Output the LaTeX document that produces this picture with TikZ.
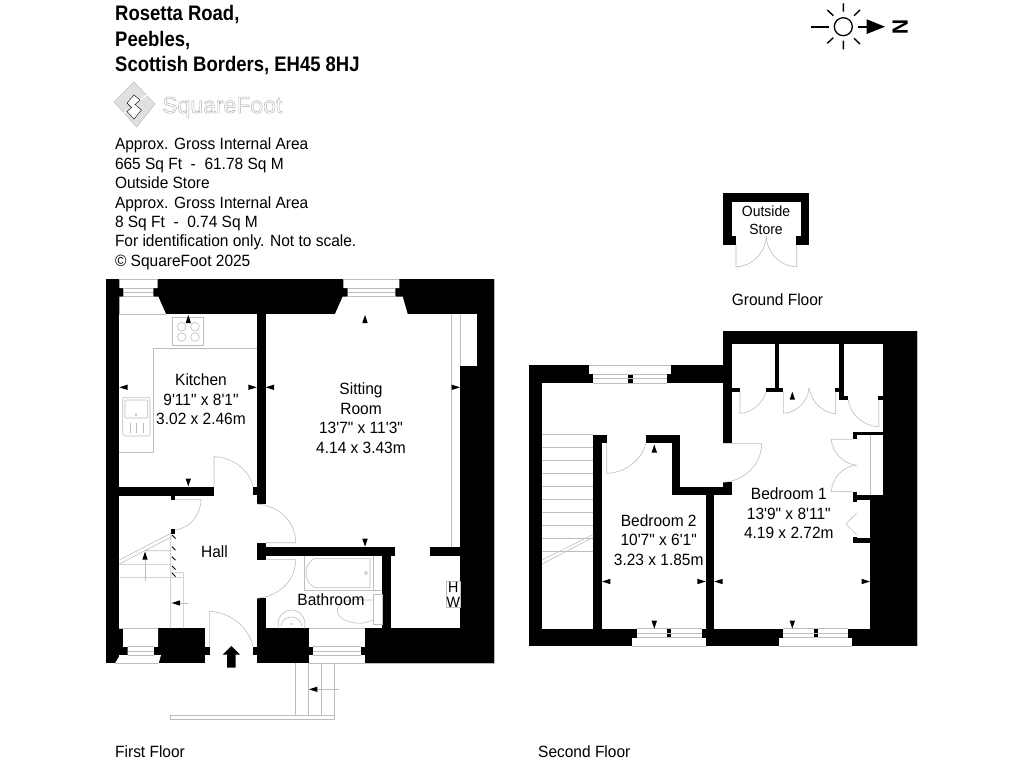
\documentclass[tikz,border=0pt]{standalone}
\usepackage{fontspec}
\setmainfont[FakeStretch=0.95,Ligatures=TeXOff]{Liberation Sans}
\newfontfamily\titlefont[FakeStretch=0.88]{Liberation Sans}
\newfontfamily\logofont{Liberation Sans}
\definecolor{thin}{gray}{0.74}
\tikzset{
  thinline/.style={draw=thin,line width=0.6pt},
  tag/.style={inner sep=0pt,outer sep=0pt,align=left,font=\fontsize{16.3}{19.4}\selectfont},
  room/.style={inner sep=0pt,outer sep=0pt,align=center,font=\fontsize{16.3}{19.5}\selectfont},
}
\newcommand{\wl}[4]{\fill[black] (#1,#2) rectangle (#3,#4);}
\newcommand{\wh}[4]{\fill[white] (#1,#2) rectangle (#3,#4);}
\newcommand{\tipL}[2]{\fill[black] (#1,#2) -- ++(8.3,-2.7) -- ++(0,5.4) -- cycle;}
\newcommand{\tipR}[2]{\fill[black] (#1,#2) -- ++(-8.3,-2.7) -- ++(0,5.4) -- cycle;}
\newcommand{\tipU}[2]{\fill[black] (#1,#2) -- ++(-2.7,8) -- ++(5.4,0) -- cycle;}
\newcommand{\tipD}[2]{\fill[black] (#1,#2) -- ++(-2.7,-8) -- ++(5.4,0) -- cycle;}
\begin{document}
\begin{tikzpicture}[x=1pt,y=-1pt]
\useasboundingbox (0,0) rectangle (1024,768);
\fill[white] (0,0) rectangle (1024,768);

% ---------- header text
\node[anchor=base west,inner sep=0pt,font=\titlefont\bfseries\fontsize{21}{25}\selectfont] (t1) at (115,20.7) {Rosetta Road,};
\node[anchor=base west,inner sep=0pt,font=\titlefont\bfseries\fontsize{21}{25}\selectfont] (t2) at (115,46) {Peebles,};
\node[anchor=base west,inner sep=0pt,font=\titlefont\bfseries\fontsize{21}{25}\selectfont] (t3) at (115,71.5) {Scottish Borders, EH45 8HJ};
\node[tag,anchor=north west] (info) at (115,138) {Approx. Gross Internal Area\\665 Sq Ft\ \ -\ \ 61.78 Sq M\\Outside Store\\Approx. Gross Internal Area\\8 Sq Ft\ \ -\ \ 0.74 Sq M\\For identification only. Not to scale.\\© SquareFoot 2025};

% ---------- logo
\draw[draw=thin,fill=black!12,line width=0.5pt,line join=round] (134,82) -- (155,104) -- (136.7,127) -- (114,102) -- cycle;
\fill[white] (127,103) -- (134,95) -- (140,100) -- (135,104.5) -- (141.5,110) -- (134,119) -- (127,111.5) -- (131.5,107.5) -- cycle;
\draw[white,line width=1.3pt] (140,100) -- (147,95) (127,111.5) -- (122,114);
\draw[thin,line width=0.4pt] (127,103) -- (134,95) -- (140,100) -- (135,104.5) -- (141.5,110) -- (134,119) -- (127,111.5) -- (131.5,107.5) -- cycle;
\node[anchor=base west,inner sep=0pt,font=\logofont\fontsize{23}{25}\selectfont] (logo) at (162,113) {\special{pdf:code q 1 Tr 0.45 w 0.68 0.68 0.68 RG}SquareFoot\special{pdf:code Q}};

% ---------- north symbol
\draw[black,line width=1.3pt] (843.3,26.7) circle (9);
\draw[black,line width=1.4pt] (843.3,3.3) -- (843.3,11.7) (843.3,40.7) -- (843.3,49.3)
  (827.3,10) -- (833.3,15.7) (860,10) -- (854,15.7) (827.3,43.3) -- (833.3,37.7) (860,44) -- (854,38.3);
\draw[black,line width=1.8pt] (811,26.7) -- (829.3,26.7) (857.7,26.7) -- (867,26.7);
\fill[black] (885,26.7) -- (866.7,19.3) -- (866.7,34) -- cycle;
\node[inner sep=0pt,rotate=-90,font=\bfseries\fontsize{22}{22}\selectfont] (north) at (900.3,27) {N};

% ========== FIRST FLOOR
% outer masses
\wl{106}{279.3}{119.3}{663.3}
\wl{119.3}{279.3}{494.3}{314}
\wl{476.7}{314}{494.3}{365.7}
\wl{460}{365.7}{494.3}{663.3}
\wl{365}{628.3}{494.3}{663.3}
\wl{265.7}{628.3}{309.3}{663.3}
\wl{257}{314}{265.7}{504}
\wl{252.7}{486.7}{257}{495}
\wl{119.3}{486.7}{214}{496}
\wl{170.7}{496}{175.3}{500}
\wl{257}{542.7}{265.7}{560}
\wl{265.7}{546.7}{395}{555.7}
\wl{429.7}{546.7}{460}{555.7}
\wl{382.3}{555.7}{391}{628.3}
\wl{257}{598.3}{265.7}{663.3}
\wl{252.7}{646.7}{257}{655}
\wl{158}{628.3}{205.3}{663.3}
\wl{205.3}{646.7}{209.7}{655}
\wl{153.7}{646.7}{158}{655}
\wl{119.3}{628.3}{123.3}{655}
\wl{123.3}{646.7}{127.7}{655}
\wl{170.7}{529.3}{175.3}{534}
% kitchen window opening
\fill[white] (119.3,279.3) -- (119.3,288) -- (123.3,288) -- (123.3,296.7) -- (119.3,296.7) -- (119.3,314) -- (166,314) -- (158.3,296.7) -- (153.3,296.7) -- (153.3,288) -- (157.7,288) -- (157.7,279.3) -- cycle;
\draw[thinline] (119.3,279.3) -- (157.7,279.3) (123.3,288) -- (153.3,288) (123.3,292.3) -- (153.3,292.3) (123.3,296.7) -- (153.3,296.7) (119.3,314) -- (166,314);
% sitting room window opening
\fill[white] (343.3,279.3) -- (343.3,288) -- (347.7,288) -- (347.7,296.7) -- (342.7,296.7) -- (335,314) -- (407.7,314) -- (402.7,296.7) -- (395.3,296.7) -- (395.3,288) -- (399.3,288) -- (399.3,279.3) -- cycle;
\draw[thinline] (343.3,279.3) -- (399.3,279.3) (347.7,288) -- (395.3,288) (347.7,292.3) -- (395.3,292.3) (347.7,296.7) -- (395.3,296.7);
% lower-left window
\fill[white] (123.3,628.3) -- (158,628.3) -- (158,646.7) -- (153.7,646.7) -- (153.7,655) -- (161,655) -- (158.7,663.3) -- (115,663.3) -- (120,655) -- (127.7,655) -- (127.7,646.7) -- (123.3,646.7) -- cycle;
\draw[thinline] (119.3,628.3) -- (158,628.3) (127.7,646.7) -- (153.7,646.7) (127.7,651) -- (153.7,651) (127.7,655) -- (153.7,655) (115,663.3) -- (158,663.3);
% bathroom window
\wh{309.3}{628.3}{365}{663.3}
\wl{309.3}{646.7}{313.3}{655}
\wl{360.7}{646.7}{365}{655}
\draw[thinline] (309.3,628.3) -- (365,628.3) (313.3,646.7) -- (360.7,646.7) (313.3,651) -- (360.7,651) (313.3,655) -- (360.7,655) (309.3,663.3) -- (365,663.3);
% right outline
\draw[thinline] (494.3,279.3) -- (494.3,663.3) -- (365,663.3);

% kitchen fittings
\draw[thinline] (153.7,348.3) -- (257,348.3) (153.7,348.3) -- (153.7,452.3) -- (119.3,452.3);
\draw[thinline] (172.7,317.3) rectangle (203.7,345);
\foreach \cx/\cy in {181.7/326.7,195/326.7,181.7/337,195/337} \draw[thinline] (\cx,\cy) circle (4.3);
\draw[thinline,rounded corners=2pt] (122.7,397.3) rectangle (150,436);
\draw[thinline,rounded corners=1pt] (125,400) rectangle (147.7,418);
\draw[thinline] (136,414.7) circle (1);
\draw[thinline] (130,423) -- (130,433) (136.5,423) -- (136.5,433) (143,423) -- (143,433);
% doors first floor
\draw[thinline] (214,486.7) -- (214,456.7) .. controls (232,457) and (250,470) .. (252.7,486.7);
\draw[thinline] (265.7,542.7) -- (295.7,542.7) .. controls (295.7,522) and (280,506) .. (257,504);
\draw[thinline] (265.7,559.3) -- (295.7,559.3) .. controls (295.7,580) and (280,596) .. (257,598.3);
\draw[thinline] (209.3,646.7) -- (209.3,611.3) .. controls (230,612) and (250,628) .. (252.7,646.7);
\draw[thinline] (175.3,499.3) -- (201,499.3) .. controls (201,515) and (190,528) .. (175.3,530);
% stairs
\draw[thinline] (170.7,534) -- (170.7,628.3) (183.3,572.7) -- (183.3,628.3) (170.7,572.7) -- (183.3,572.7)
  (119.3,577.3) -- (183.3,577.3) (119.3,564.3) -- (170.7,564.3) (145,550.7) -- (170.7,550.7)
  (119.3,560) -- (170.7,533.3) (119.3,564) -- (171.7,536.7);
\foreach \hy in {535,546.7,556.7,566,573} \draw[black,line width=0.9pt] (172,\hy) -- (175.5,\hy+3.5);
\draw[thinline] (145,560) -- (145,581) (180,603) -- (187.7,603);
\tipU{145}{551.7}
\tipL{171.7}{603}
% entry arrow
\fill[black] (231.3,646) -- (240,654.7) -- (235.7,654.7) -- (235.7,667.7) -- (227,667.7) -- (227,654.7) -- (222.7,654.7) -- cycle;
% sitting room lines
\draw[thinline] (451.7,314) -- (451.7,546.7) (460,314) -- (460,365.7);
% bathroom fittings
\draw[thinline] (304.3,555.7) -- (304.3,590.3) -- (382.3,590.3) (373.7,555.7) -- (373.7,590.3);
\draw[thinline] (370,558.3) -- (318,558.3) .. controls (302,558.3) and (302,587.7) .. (318,587.7) -- (370,587.7) -- cycle;
\draw[thinline] (366,573) circle (1.6);
\draw[thinline] (373.3,594.3) rectangle (382.3,624.3);
\draw[thinline] (373.3,600) -- (365,600) .. controls (345,598) and (337.3,604) .. (337.3,611) .. controls (337.3,620) and (355,625) .. (365,622.7) -- (373.3,620);
\draw[thinline] (278.5,628.3) .. controls (276,616) and (285,610) .. (291.5,610) .. controls (298,610) and (307,616) .. (304.5,628.3);
\draw[thinline] (281,626) .. controls (283,614) and (300,614) .. (302,626);
\draw[thinline] (291.5,624) circle (0.8);
% HW
\draw[thinline,fill=white] (446.7,581) rectangle (460,607.7);
\node[inner sep=0pt,font=\fontsize{15}{15}\selectfont,anchor=base] (hwH) at (453.3,592.3) {H};
\node[inner sep=0pt,font=\fontsize{15}{15}\selectfont,anchor=base] (hwW) at (453.3,607.3) {W};
% entry steps
\draw[thinline] (295.7,663.3) -- (295.7,715) (308.7,663.3) -- (308.7,715) (321.7,663.3) -- (321.7,715) (334.7,663.3) -- (334.7,719.3) -- (170.3,719.3) -- (170.3,715) -- (334.7,715);
\draw[thinline] (317,689.3) -- (339,689.3);
\tipL{309}{689.3}
% first floor dim arrows
\tipL{119.3}{387.3}
\tipR{256.7}{387.3}
\tipL{265.7}{387.3}
\tipR{460}{387.3}
\tipU{188.3}{315}
\tipD{188.3}{486.5}
\tipU{365}{315}
\tipD{365}{546.7}
% first floor labels
\node[room] (kitchen) at (201,399.5) {Kitchen\\9'11" x 8'1"\\3.02 x 2.46m};
\node[room] (sitting) at (361,418) {Sitting\\Room\\13'7" x 11'3"\\4.14 x 3.43m};
\node[room,anchor=base] (hall) at (214.5,557.3) {Hall};
\node[room,anchor=base] (bath) at (331,605) {Bathroom};

% ========== OUTSIDE STORE
\wl{723}{193}{809.3}{201.7}
\wl{723}{193}{731.7}{245}
\wl{800.7}{193}{809.3}{245}
\wl{731.7}{236}{736}{245}
\wl{796.3}{236}{800.7}{245}
\draw[thinline] (736,245) -- (736,266.7) .. controls (752,266.7) and (766,252) .. (766.3,236);
\draw[thinline] (796.7,245) -- (796.7,266.7) .. controls (780,266.7) and (766.6,252) .. (766.3,236);
\node[room,font=\fontsize{14.7}{17.5}\selectfont] (store) at (766,220) {Outside\\Store};
\node[inner sep=0pt,anchor=base west,font=\fontsize{16.3}{19.4}\selectfont] (gf) at (731.7,305) {Ground Floor};

% ========== SECOND FLOOR
\wl{528.7}{365.3}{542}{646}
\wl{528.7}{365.3}{731.7}{383.3}
\wl{528.7}{628.7}{917.3}{646}
\wl{593.3}{434.7}{602}{628.7}
\wl{593.3}{434.7}{606.7}{443.3}
\wl{645.7}{434.7}{680}{443.3}
\wl{671.7}{434.7}{680}{495}
\wl{671.7}{486.7}{731.7}{495}
\wl{723.3}{482.3}{731.7}{495}
\wl{705.7}{495}{714.3}{628.7}
\wl{723.3}{331}{731.7}{443.3}
\wl{723.3}{331}{917.3}{344}
\wl{882.7}{344}{917.3}{495}
\wl{870}{495}{917.3}{646}
\wl{774.7}{344}{779.3}{389}
\wl{839.3}{344}{844}{400}
\wl{731.7}{387.7}{740}{391.7}
\wl{766}{387.7}{783.3}{391.7}
\wl{835}{387.7}{839.3}{391.7}
\wl{839.3}{396}{848.3}{400}
\wl{878.3}{396}{882.7}{400}
\wl{852.7}{431.7}{882.7}{435}
\wl{852.7}{431.7}{857.3}{439}
\wl{857}{495}{870}{500}
\wl{852.7}{491.7}{857.3}{501.7}
\wl{857}{538.3}{870}{542.7}
\wl{852.7}{536.7}{857.3}{542.7}
% top window
\wh{589.3}{365.3}{671.3}{383.3}
\wl{589.3}{374}{593.3}{383.3}
\wl{666.7}{374}{671.3}{383.3}
\wl{628}{374}{632.7}{383.3}
\draw[thinline] (589.3,365.3) -- (671.3,365.3) (593.3,374) -- (666.7,374) (593.3,378.5) -- (666.7,378.5) (593.3,383.3) -- (666.7,383.3);
% bottom windows
\wh{636.7}{628.7}{701.7}{637.7}
\wh{632.3}{637.7}{705.7}{646}
\wl{666.7}{628.7}{671.3}{637.7}
\draw[thinline] (636.7,628.7) -- (701.7,628.7) (636.7,633.2) -- (701.7,633.2) (636.7,637.7) -- (701.7,637.7) (632.3,646) -- (705.7,646);
\wh{783.3}{628.7}{848}{637.7}
\wh{779.3}{637.7}{852.3}{646}
\wl{813.7}{628.7}{818.3}{637.7}
\draw[thinline] (783.3,628.7) -- (848,628.7) (783.3,633.2) -- (848,633.2) (783.3,637.7) -- (848,637.7) (779.3,646) -- (852.3,646);
\draw[thinline] (917.3,331) -- (917.3,646);
% stairs
\foreach \sy in {434.3,447.3,...,555} \draw[thinline] (542,\sy) -- (593.3,\sy);
\draw[thinline] (542,560) -- (593.3,534.3) (542,564) -- (593.3,537.3);
% doors second floor
\draw[thinline] (606.7,443.3) -- (606.7,473.3) .. controls (625,473) and (642,460) .. (645.7,443.3);
\draw[thinline] (723.3,443.3) -- (761.7,443.3) .. controls (761.7,464) and (745,481) .. (723.3,482.3);
\draw[thinline] (740,391.7) -- (740,413.3) .. controls (752,413) and (763,403) .. (766,391.7);
\draw[thinline] (783.3,391.7) -- (783.3,413.3) .. controls (796,413) and (808,402) .. (809,388);
\draw[thinline] (835.7,391.7) -- (835.7,413.7) .. controls (823,413) and (811,402) .. (809.3,388);
\draw[thinline] (878.7,400) -- (878.7,426.7) .. controls (863,426) and (850,414) .. (848.3,400);
\draw[thinline] (870,435) -- (870,495);
\draw[thinline] (852.7,439.3) -- (831.3,439.3) .. controls (832,452) and (843,464) .. (856.7,465.3);
\draw[thinline] (852.7,491.7) -- (831.3,491.7) .. controls (832,478) and (843,466) .. (856.7,465.3);
\draw[thinline] (856.7,513.3) -- (845.7,524) -- (856.7,535);
% second floor dim arrows
\tipL{602}{581.5}
\tipR{705.7}{581.5}
\tipL{714.3}{581.5}
\tipR{870}{581.5}
\tipU{654.3}{444.5}
\tipD{654.3}{628.7}
\tipU{792.3}{391.7}
\tipD{792.3}{628.5}
% second floor labels
\node[room] (bed2) at (658.7,540) {Bedroom 2\\10'7" x 6'1"\\3.23 x 1.85m};
\node[room] (bed1) at (788.8,513.5) {Bedroom 1\\13'9" x 8'11"\\4.19 x 2.72m};

% floor captions
\node[inner sep=0pt,anchor=base west,font=\fontsize{16.3}{19.4}\selectfont] (ff) at (115,757) {First Floor};
\node[inner sep=0pt,anchor=base west,font=\fontsize{16.3}{19.4}\selectfont] (sf) at (538,757) {Second Floor};
\end{tikzpicture}
\end{document}
